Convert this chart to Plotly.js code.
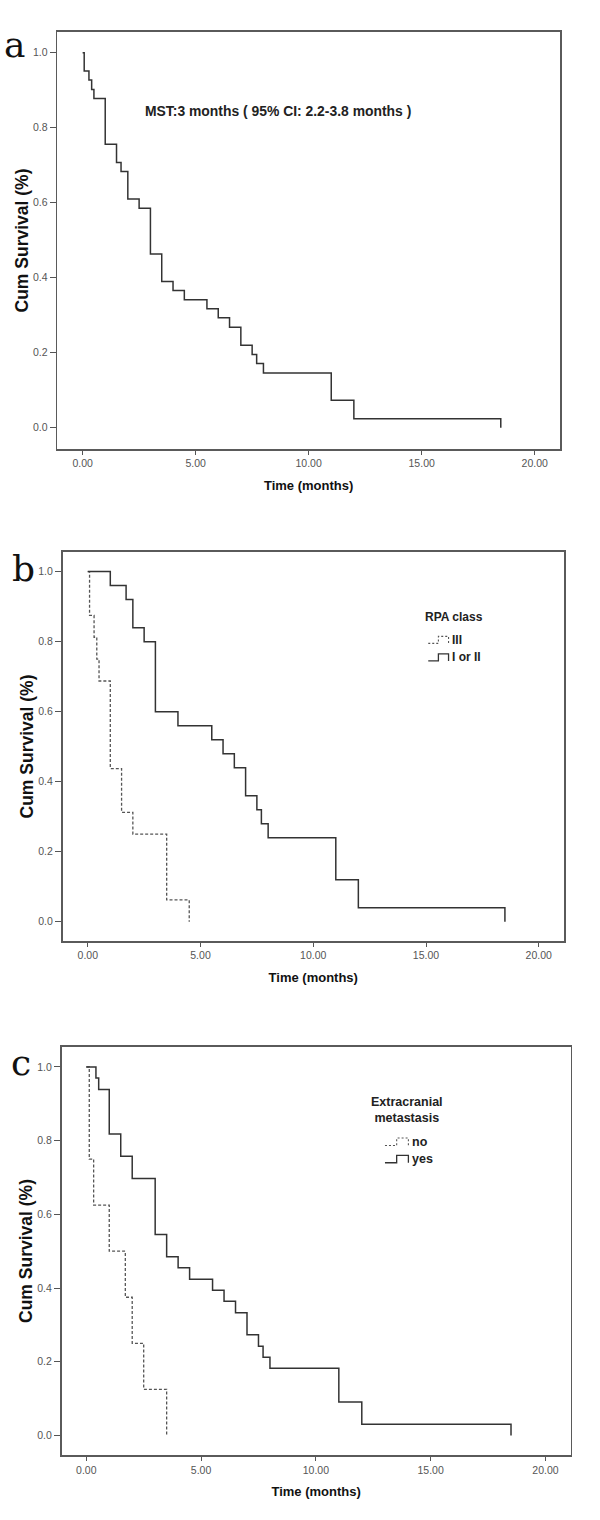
<!DOCTYPE html>
<html>
<head>
<meta charset="utf-8">
<script src="https://cdn.plot.ly/plotly-3.0.1.min.js"></script>
<style>html,body{margin:0;padding:0;background:#fff;}#chart{width:600px;height:1520px;}</style>
</head>
<body>
<div id="chart"></div>
<script>
// ---------------- data ----------------
// Panel a: overall Kaplan-Meier curve
const timeA = [0, 0.07, 0.28, 0.4, 0.5, 1.0, 1.5, 1.7, 2.0, 2.5, 3.0, 3.5, 4.0, 4.5, 5.5, 6.0, 6.5, 7.0, 7.5, 7.7, 8.0, 11.0, 12.0, 18.5];
const survA = [1.0, 0.951, 0.927, 0.902, 0.878, 0.756, 0.707, 0.683, 0.610, 0.585, 0.463, 0.390, 0.366, 0.341, 0.317, 0.293, 0.268, 0.220, 0.195, 0.171, 0.146, 0.073, 0.024, 0.0];

// Panel b: RPA class
const timeB_III = [0, 0.08, 0.28, 0.4, 0.5, 1.0, 1.5, 2.0, 3.5, 4.5];
const survB_III = [1.0, 0.875, 0.8125, 0.75, 0.6875, 0.4375, 0.3125, 0.25, 0.0625, 0.0];
const timeB_I_II = [0, 1.0, 1.7, 2.0, 2.5, 3.0, 4.0, 5.5, 6.0, 6.5, 7.0, 7.5, 7.7, 8.0, 11.0, 12.0, 18.5];
const survB_I_II = [1.0, 0.96, 0.92, 0.84, 0.80, 0.60, 0.56, 0.52, 0.48, 0.44, 0.36, 0.32, 0.28, 0.24, 0.12, 0.04, 0.0];

// Panel c: Extracranial metastasis
const timeC_no = [0, 0.13, 0.32, 1.0, 1.7, 2.0, 2.5, 3.5];
const survC_no = [1.0, 0.75, 0.625, 0.5, 0.375, 0.25, 0.125, 0.0];
const timeC_yes = [0, 0.42, 0.54, 1.0, 1.5, 2.0, 3.0, 3.5, 4.0, 4.5, 5.5, 6.0, 6.5, 7.0, 7.5, 7.7, 8.0, 11.0, 12.0, 18.5];
const survC_yes = [1.0, 0.97, 0.939, 0.818, 0.758, 0.697, 0.545, 0.485, 0.455, 0.424, 0.394, 0.364, 0.333, 0.273, 0.242, 0.212, 0.182, 0.091, 0.030, 0.0];

const xTickVals = [0, 5, 10, 15, 20];
const xTickText = ["0.00", "5.00", "10.00", "15.00", "20.00"];
const yTickVals = [0, 0.2, 0.4, 0.6, 0.8, 1.0];
const yTickText = ["0.0", "0.2", "0.4", "0.6", "0.8", "1.0"];

const panelLetters = ["a", "b", "c"];
const xTitle = "Time (months)";
const yTitle = "Cum Survival (%)";
const mstText = "MST:3 months ( 95% CI: 2.2-3.8 months )";
const legendBTitle = "RPA class";
const legendBNames = ["III", "I or II"];
const legendCTitle = "Extracranial<br>metastasis";
const legendCNames = ["no", "yes"];

// ---------------- layout helpers ----------------
const W = 600, H = 1520;
const fx = p => p / W;
const fy = p => 1 - p / H;
const SANS = "Arial, 'Liberation Sans', sans-serif";
const solidLine = {color: '#333', width: 1.5, shape: 'hv'};
const dashLine = {color: '#555', width: 1.3, shape: 'hv', dash: '3px,2px'};

function trace(x, y, line, xa, ya, name) {
  return {x: x, y: y, mode: 'lines', line: line, xaxis: xa, yaxis: ya, name: name,
          showlegend: false, hoverinfo: 'skip'};
}

const data = [
  trace(timeA, survA, solidLine, 'x', 'y', 'All'),
  trace(timeB_III, survB_III, dashLine, 'x2', 'y2', legendBNames[0]),
  trace(timeB_I_II, survB_I_II, solidLine, 'x2', 'y2', legendBNames[1]),
  trace(timeC_no, survC_no, dashLine, 'x3', 'y3', legendCNames[0]),
  trace(timeC_yes, survC_yes, solidLine, 'x3', 'y3', legendCNames[1])
];

// plot frames in pixels: [left, right, top, bottom]
const frames = [[57.3, 560, 32, 449], [62.5, 564, 552, 941], [61.5, 570.7, 1046.7, 1455.3]];
const xRanges = [[-1.12, 21.12], [-1.12, 21.12], [-1.08, 21.1]];
const yRanges = [[-0.057, 1.055], [-0.055, 1.056], [-0.054, 1.055]];

function xAxis(i, anchor) {
  const f = frames[i];
  return {domain: [fx(f[0]), fx(f[1])], range: xRanges[i], anchor: anchor,
    showline: true, mirror: true, linecolor: '#5a5a5a', linewidth: 1.6,
    ticks: 'outside', ticklen: 4, tickwidth: 1, tickcolor: '#555',
    tickvals: xTickVals, ticktext: xTickText,
    tickfont: {family: SANS, size: 10.5, color: '#555'},
    showgrid: false, zeroline: false, fixedrange: true,
    title: {text: xTitle, font: {family: SANS, size: 13, color: '#111', weight: 'bold'}, standoff: 12}};
}
function yAxis(i, anchor) {
  const f = frames[i];
  return {domain: [fy(f[3]), fy(f[2])], range: yRanges[i], anchor: anchor,
    showline: true, mirror: true, linecolor: '#5a5a5a', linewidth: 1.6,
    ticks: 'outside', ticklen: 6, tickwidth: 1, tickcolor: '#555',
    tickvals: yTickVals, ticktext: yTickText,
    tickfont: {family: SANS, size: 10.5, color: '#555'},
    showgrid: false, zeroline: false, fixedrange: true,
    title: {text: yTitle, font: {family: SANS, size: 17.5, color: '#111', weight: 'bold'}, standoff: 0}};
}

const annotations = [];
// panel letters
const letterPos = [[14, 45], [23, 568], [21, 1062]];
panelLetters.forEach((L, i) => annotations.push({
  text: L, xref: 'paper', yref: 'paper', x: fx(letterPos[i][0]), y: fy(letterPos[i][1]),
  xanchor: 'center', yanchor: 'middle', showarrow: false,
  font: {family: "'DejaVu Serif', serif", size: 36, color: '#111'}
}));
// MST annotation (data coords of panel a)
annotations.push({text: mstText, xref: 'x', yref: 'y', x: 2.65, y: 0.845, xanchor: 'left', yanchor: 'middle',
  showarrow: false, font: {family: SANS, size: 13.9, color: '#222', weight: 'bold'}});

// legends drawn manually (in the panel's data coordinates) to reproduce the step glyphs
const shapes = [];
function legendItem(xa, ya, x0, x1, yc, dy, dash, name, font) {
  const xm = (x0 + x1) / 2, ylo = yc - dy, yhi = yc + dy;
  const p = 'M ' + x0 + ',' + ylo + ' L ' + xm + ',' + ylo + ' L ' + xm + ',' + yhi +
            ' L ' + x1 + ',' + yhi + ' L ' + x1 + ',' + ylo;
  shapes.push({type: 'path', xref: xa, yref: ya, path: p,
    line: dash ? {color: '#555', width: 1.1, dash: '2px,2px'} : {color: '#333', width: 1.3}});
  annotations.push({text: name, xref: xa, yref: ya, x: x1 + 0.06, y: yc,
    xanchor: 'left', yanchor: 'middle', showarrow: false, font: font});
}
const legFontB = {family: SANS, size: 12, color: '#222', weight: 'bold'};
annotations.push({text: legendBTitle, xref: 'x2', yref: 'y2', x: 14.88, y: 0.871,
  xanchor: 'left', yanchor: 'middle', showarrow: false, font: legFontB});
legendItem('x2', 'y2', 15.1, 16.0, 0.805, 0.01, true, legendBNames[0], legFontB);
legendItem('x2', 'y2', 15.1, 16.0, 0.755, 0.01, false, legendBNames[1], legFontB);

const legFontC = {family: SANS, size: 12.5, color: '#222', weight: 'bold'};
annotations.push({text: legendCTitle, xref: 'x3', yref: 'y3', x: 13.96, y: 0.882,
  xanchor: 'center', yanchor: 'middle', align: 'center', showarrow: false, font: legFontC});
legendItem('x3', 'y3', 13.01, 14.03, 0.797, 0.01, true, legendCNames[0], legFontC);
legendItem('x3', 'y3', 13.01, 14.03, 0.750, 0.01, false, legendCNames[1], legFontC);

const layout = {
  width: W, height: H, margin: {l: 0, r: 0, t: 0, b: 0},
  paper_bgcolor: '#fff', plot_bgcolor: '#fff', showlegend: false,
  font: {family: SANS},
  xaxis: xAxis(0, 'y'), yaxis: yAxis(0, 'x'),
  xaxis2: xAxis(1, 'y2'), yaxis2: yAxis(1, 'x2'),
  xaxis3: xAxis(2, 'y3'), yaxis3: yAxis(2, 'x3'),
  annotations: annotations, shapes: shapes
};

Plotly.newPlot('chart', data, layout, {staticPlot: true, displayModeBar: false});
</script>
</body>
</html>
